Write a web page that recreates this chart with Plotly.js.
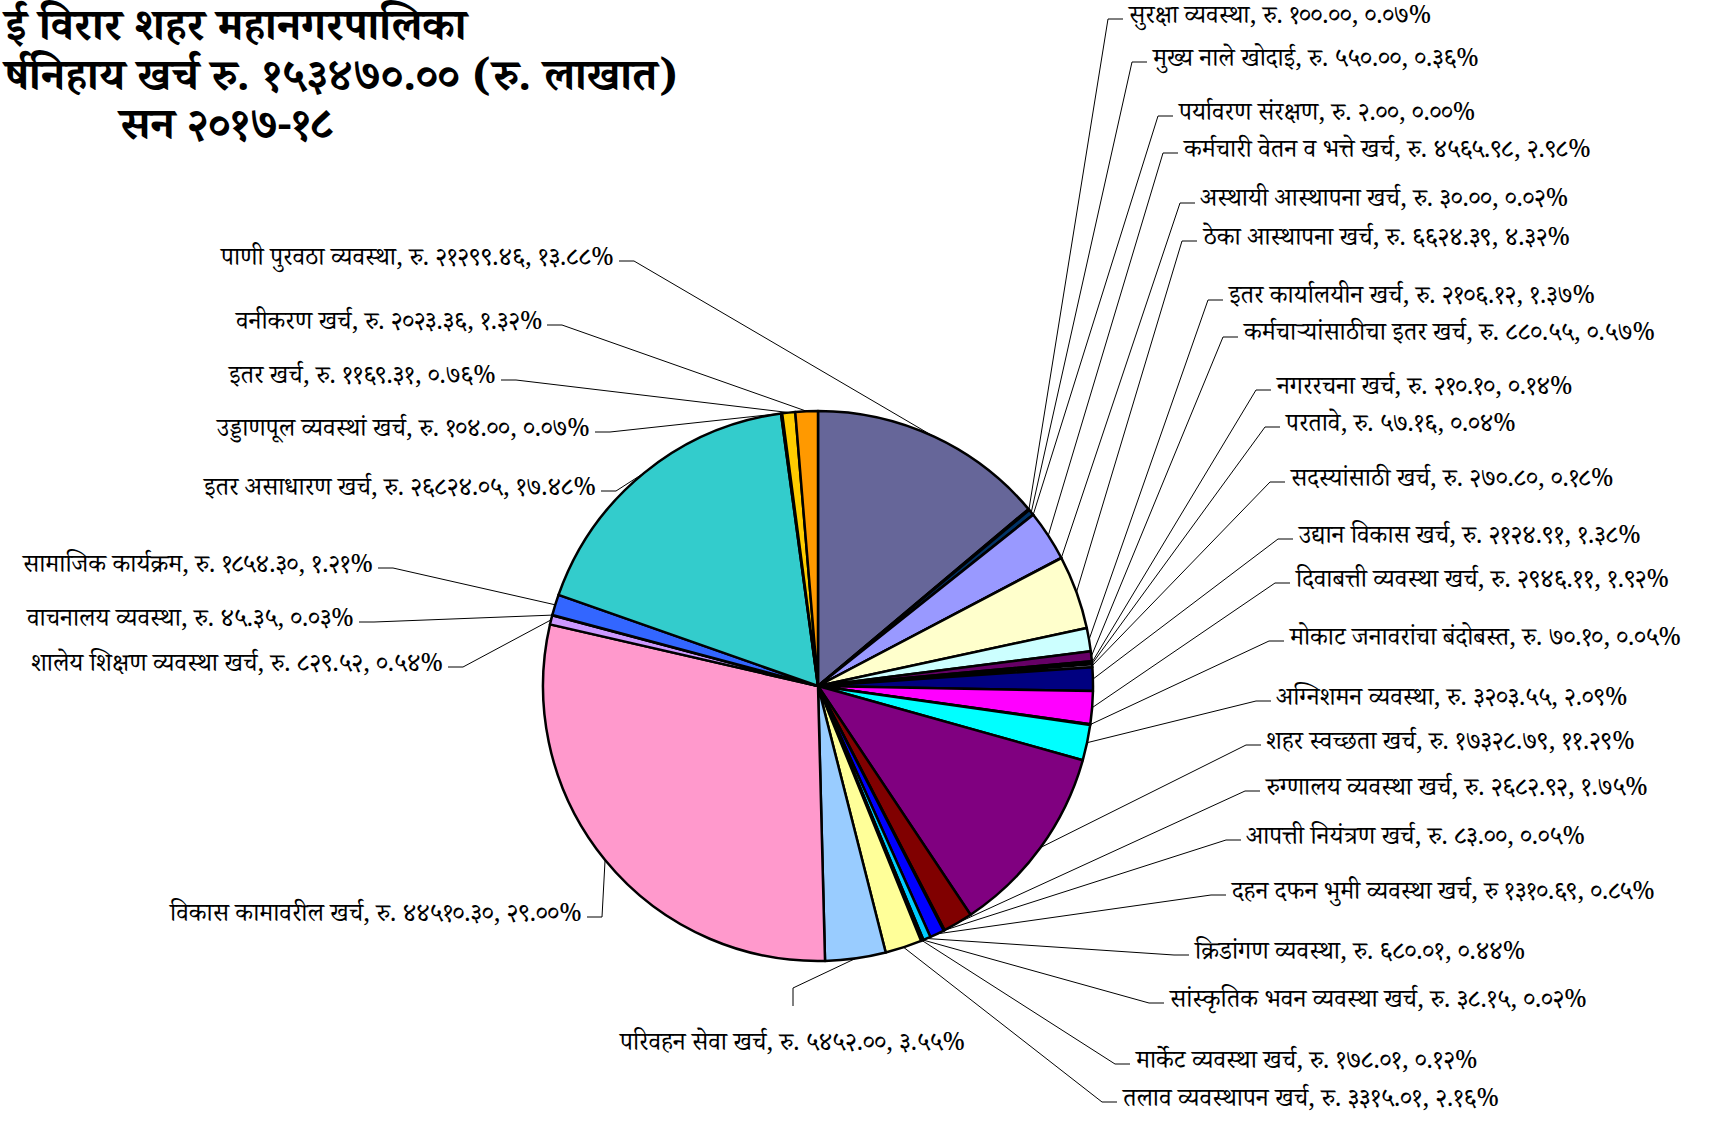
<!DOCTYPE html>
<html><head><meta charset="utf-8">
<script src="https://cdn.plot.ly/plotly-3.0.1.min.js"></script>
<style>html,body{margin:0;padding:0;background:#fff;}#chart{width:1726px;height:1122px;}</style>
</head><body><div id="chart"></div>
<script>
// ---------- DATA ----------
const categories = [
  "पाणी पुरवठा व्यवस्था", "सुरक्षा व्यवस्था", "मुख्य नाले खोदाई", "पर्यावरण संरक्षण",
  "कर्मचारी वेतन व भत्ते खर्च", "अस्थायी आस्थापना खर्च", "ठेका आस्थापना खर्च",
  "इतर कार्यालयीन खर्च", "कर्मचाऱ्यांसाठीचा इतर खर्च", "नगररचना खर्च", "परतावे",
  "सदस्यांसाठी खर्च", "उद्यान विकास खर्च", "दिवाबत्ती व्यवस्था खर्च",
  "मोकाट जनावरांचा बंदोबस्त", "अग्निशमन व्यवस्था", "शहर स्वच्छता खर्च",
  "रुग्णालय व्यवस्था खर्च", "आपत्ती नियंत्रण खर्च", "दहन दफन भुमी व्यवस्था खर्च",
  "क्रिडांगण व्यवस्था", "सांस्कृतिक भवन व्यवस्था खर्च", "मार्केट व्यवस्था खर्च",
  "तलाव व्यवस्थापन खर्च", "परिवहन सेवा खर्च", "विकास कामावरील खर्च",
  "शालेय शिक्षण व्यवस्था खर्च", "वाचनालय व्यवस्था", "सामाजिक कार्यक्रम",
  "इतर असाधारण खर्च", "उड्डाणपूल व्यवस्थां खर्च", "इतर खर्च", "वनीकरण खर्च"
];
const amounts = [
  21299.46, 100.00, 550.00, 2.00,
  4565.98, 30.00, 6624.39,
  2106.12, 880.55, 210.10, 57.16,
  270.80, 2124.91, 2946.11,
  70.10, 3203.55, 17328.79,
  2682.92, 83.00, 1310.69,
  680.01, 38.15, 178.01,
  3315.01, 5452.00, 44510.30,
  829.52, 45.35, 1854.30,
  26824.05, 104.00, 1169.31, 2023.36
];
const currencyMarks = [
  "रु.","रु.","रु.","रु.","रु.","रु.","रु.","रु.","रु.","रु.","रु.",
  "रु.","रु.","रु.","रु.","रु.","रु.","रु.","रु.","रु","रु.","रु.",
  "रु.","रु.","रु.","रु.","रु.","रु.","रु.","रु.","रु.","रु.","रु."
];
const titleLines = ["ई विरार शहर महानगरपालिका", "र्षनिहाय खर्च रु.", "(रु. लाखात)", "सन २०१७-१८"];

// ---------- STYLE / LAYOUT ----------
const sliceColors = [
  "#666699", "#969696", "#003366", "#339966", "#9999FF", "#993366", "#FFFFCC",
  "#CCFFFF", "#660066", "#FF8080", "#0066CC", "#CCCCFF", "#000080", "#FF00FF",
  "#FFFF00", "#00FFFF", "#800080", "#800000", "#008080", "#0000FF", "#00CCFF",
  "#CCFFFF", "#CCFFCC", "#FFFF99", "#99CCFF", "#FF99CC", "#CC99FF", "#FFCC99",
  "#3366FF", "#33CCCC", "#99CC00", "#FFCC00", "#FF9900"
];
const labelSide = ["L","R","R","R","R","R","R","R","R","R","R","R","R","R","R","R","R",
  "R","R","R","R","R","R","R","B","L","L","L","L","L","L","L","L"];
const labelX = [616, 1126,1150,1176,1181,1198,1200,1226,1241,1274,1283,1288,1296,1293,1287,
  1274,1264,1263,1244,1229,1192,1167,1133,1120, 792, 584,445,356,375,598,592,498,544];
const labelY = [261, 19,62,116,153,203,241,300,337,390,427,482,539,583,641,
  701,745,791,840,895,955,1003,1064,1102, 1046, 917,667,622,568,491,432,380,325];

const W = 1726, H = 1122;
const cx = 818, cy = 686, R = 275;
const labelFont = {family: "'Noto Serif Devanagari','Noto Sans Devanagari','Lohit Devanagari','FreeSerif',serif", size: 25, color: "#000"};
const titleFont = {family: "'Noto Serif Devanagari','Noto Sans Devanagari','Lohit Devanagari','FreeSerif',serif", size: 44, color: "#000", weight: 700};

// ---------- HELPERS ----------
const devDigits = "०१२३४५६७८९";
const toDev = s => String(s).replace(/[0-9]/g, d => devDigits[+d]);
const total = amounts.reduce((a, b) => a + b, 0);
const px = x => x / W, py = y => 1 - y / H;

const annotations = [];
const shapes = [];
let cum = 0;
amounts.forEach((v, i) => {
  const theta = 2 * Math.PI * (cum + v / 2) / total;
  cum += v;
  const ex = cx + R * Math.sin(theta), ey = cy - R * Math.cos(theta);
  const pct = (v / total * 100).toFixed(2);
  const text = `${categories[i]}, ${currencyMarks[i]} ${toDev(v.toFixed(2))}, ${toDev(pct)}%`;
  const side = labelSide[i], lx = labelX[i], ly = labelY[i];
  let e1, e2, xanchor;
  if (side === "R") { e1 = [lx - 18, ly]; e2 = [lx - 3, ly]; xanchor = "left"; }
  else if (side === "L") { e1 = [lx + 18, ly]; e2 = [lx + 3, ly]; xanchor = "right"; }
  else { e1 = [lx + 1, ly - 58]; e2 = [lx + 1, ly - 40]; xanchor = "center"; }
  annotations.push({x: px(lx), y: py(ly), xref: "paper", yref: "paper", text: text,
    showarrow: false, xanchor: xanchor, yanchor: "middle", font: labelFont});
  const ln = {color: "#000", width: 1};
  shapes.push({type: "line", xref: "paper", yref: "paper", x0: px(ex), y0: py(ey), x1: px(e1[0]), y1: py(e1[1]), line: ln});
  shapes.push({type: "line", xref: "paper", yref: "paper", x0: px(e1[0]), y0: py(e1[1]), x1: px(e2[0]), y1: py(e2[1]), line: ln});
});

// title
annotations.push({x: 0, y: py(34), xref: "paper", yref: "paper", xanchor: "left", yanchor: "middle",
  text: titleLines[0], showarrow: false, font: titleFont});
annotations.push({x: 0, y: py(84), xref: "paper", yref: "paper", xanchor: "left", yanchor: "middle",
  text: `${titleLines[1]} ${toDev(total.toFixed(2))} ${titleLines[2]}`, showarrow: false, font: titleFont});
annotations.push({x: px(226), y: py(132), xref: "paper", yref: "paper", xanchor: "center", yanchor: "middle",
  text: titleLines[3], showarrow: false, font: titleFont});

const trace = {
  type: "pie", values: amounts, labels: categories, sort: false, direction: "clockwise", rotation: 0,
  marker: {colors: sliceColors, line: {color: "#000", width: 2.5}},
  textinfo: "none", hoverinfo: "skip", showlegend: false,
  domain: {x: [(cx - R) / W, (cx + R) / W], y: [1 - (cy + R) / H, 1 - (cy - R) / H]}
};

Plotly.newPlot("chart", [trace], {
  width: W, height: H, margin: {l: 0, r: 0, t: 0, b: 0},
  paper_bgcolor: "#fff", plot_bgcolor: "#fff", showlegend: false,
  annotations: annotations, shapes: shapes
}, {staticPlot: true});
</script></body></html>
